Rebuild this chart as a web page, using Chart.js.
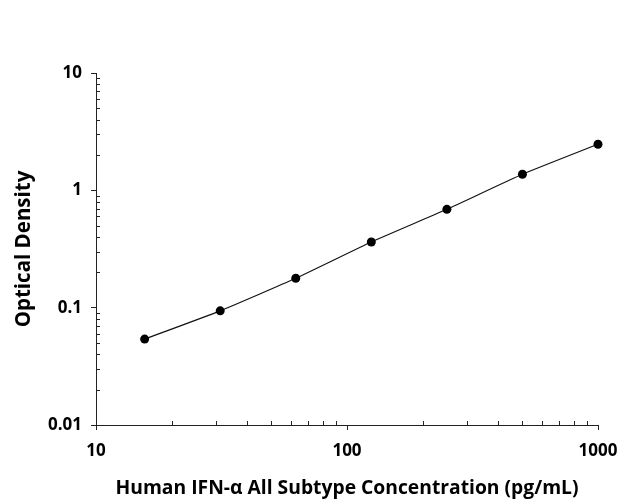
<!DOCTYPE html>
<html>
<head>
<meta charset="utf-8">
<script src="https://cdn.jsdelivr.net/npm/chart.js@4/dist/chart.umd.min.js"></script>
<style>
  html, body { margin: 0; padding: 0; background: #fff; }
  #wrap { width: 620px; height: 500px; }
</style>
</head>
<body>
<div id="wrap"><canvas id="chart" width="620" height="500"></canvas></div>
<script>
// 데이터
const concentrations = [15.625, 31.25, 62.5, 125, 250, 500, 1000];
const opticalDensity = [0.054, 0.094, 0.178, 0.363, 0.689, 1.37, 2.47];
const xTickValues = [10, 100, 1000];
const yTickValues = [0.01, 0.1, 1, 10];
const minorSteps = [2, 3, 4, 5, 6, 7, 8, 9];

const FONT = '"Open Sans", "DejaVu Sans", sans-serif';
const AXIS_COLOR = '#222';

// 안쪽으로 향하는 보조 눈금
const minorTicks = {
    id: 'minorTicks',
    afterDraw(chart) {
        const ctx = chart.ctx;
        const xs = chart.scales.x;
        const ys = chart.scales.y;
        ctx.save();
        ctx.strokeStyle = AXIS_COLOR;
        ctx.lineWidth = 1;
        ctx.beginPath();
        for (let i = 0; i < xTickValues.length - 1; i++) {
            minorSteps.forEach(m => {
                const px = Math.round(xs.getPixelForValue(xTickValues[i] * m)) + 0.5;
                ctx.moveTo(px, xs.top);
                ctx.lineTo(px, xs.top - 4);
            });
        }
        for (let i = 0; i < yTickValues.length - 1; i++) {
            minorSteps.forEach(m => {
                const py = Math.round(ys.getPixelForValue(yTickValues[i] * m)) + 0.5;
                ctx.moveTo(ys.right, py);
                ctx.lineTo(ys.right + 4, py);
            });
        }
        ctx.stroke();
        ctx.restore();
    }
};

const ctx = document.getElementById('chart').getContext('2d');
new Chart(ctx, {
    type: 'line',
    data: {
        datasets: [{
            data: concentrations.map((c, i) => ({ x: c, y: opticalDensity[i] })),
            borderColor: '#111',
            borderWidth: 1.2,
            backgroundColor: '#000',
            pointRadius: 4.5,
            pointBorderWidth: 0,
            pointBackgroundColor: '#000',
            tension: 0.15,
            clip: false,
            fill: false
        }]
    },
    options: {
        responsive: false,
        animation: false,
        layout: { padding: { top: 73, right: 22, left: 0, bottom: 0 } },
        plugins: {
            legend: { display: false },
            tooltip: { enabled: false }
        },
        scales: {
            x: {
                type: 'logarithmic',
                position: 'bottom',
                min: 10,
                max: 1000,
                border: { color: AXIS_COLOR, width: 1 },
                grid: { drawOnChartArea: false, drawTicks: true, tickLength: 5, color: AXIS_COLOR },
                afterBuildTicks: s => { s.ticks = xTickValues.map(v => ({ value: v })); },
                afterFit: s => { s.height = 75; s.paddingLeft = 0; s.paddingRight = 0; },
                ticks: {
                    autoSkip: false,
                    maxRotation: 0,
                    padding: 11,
                    color: '#000',
                    font: { family: FONT, size: 17, weight: 'bold' },
                    callback: v => String(v)
                },
                title: {
                    display: true,
                    text: 'Human IFN-α All Subtype Concentration (pg/mL)',
                    color: '#000',
                    font: { family: FONT, size: 19.3, weight: 'bold' },
                    padding: { top: 0, bottom: 0 }
                }
            },
            y: {
                type: 'logarithmic',
                position: 'left',
                min: 0.01,
                max: 10,
                border: { color: AXIS_COLOR, width: 1 },
                grid: { drawOnChartArea: false, drawTicks: true, tickLength: 5, color: AXIS_COLOR },
                afterBuildTicks: s => { s.ticks = yTickValues.map(v => ({ value: v })); },
                afterFit: s => { s.width = 96; s.paddingTop = 0; s.paddingBottom = 0; },
                ticks: {
                    autoSkip: false,
                    padding: 9,
                    color: '#000',
                    font: { family: FONT, size: 17, weight: 'bold' },
                    callback: v => String(v)
                },
                title: {
                    display: true,
                    text: 'Optical Density',
                    color: '#000',
                    font: { family: FONT, size: 20.5, weight: 'bold' },
                    padding: { top: 12, bottom: 0 }
                }
            }
        }
    },
    plugins: [minorTicks]
});
</script>
</body>
</html>
